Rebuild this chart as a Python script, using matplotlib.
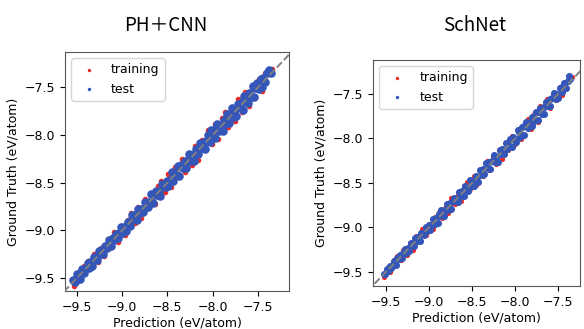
import matplotlib.pyplot as plt
import numpy as np

# PH+CNN: predicted energy and (ground truth - prediction)
ph_train_pred = [-9.53, -9.49, -9.46, -9.42, -9.38, -9.34, -9.31, -9.27, -9.23, -9.20,
                 -9.16, -9.12, -9.09, -9.05, -9.01, -8.97, -8.94, -8.90, -8.86, -8.83,
                 -8.79, -8.75, -8.71, -8.68, -8.64, -8.60, -8.57, -8.53, -8.49, -8.46,
                 -8.42, -8.38, -8.34, -8.31, -8.27, -8.23, -8.20, -8.16, -8.12, -8.09,
                 -8.05, -8.01, -7.97, -7.94, -7.90, -7.86, -7.83, -7.79, -7.75, -7.72,
                 -7.68, -7.64, -7.60, -7.57, -7.53, -7.49, -7.46, -7.42, -7.39, -7.35]
ph_train_err = [-0.05, 0.04, -0.06, 0.05, 0.06, -0.05, 0.06, -0.06, 0.05, -0.07,
                0.07, -0.05, 0.07, -0.07, 0.06, -0.08, 0.05, 0.08, -0.06, 0.07,
                -0.08, 0.08, -0.05, 0.07, -0.08, 0.06, 0.09, -0.07, 0.08, -0.09,
                0.08, -0.06, 0.09, -0.08, 0.07, -0.09, 0.08, -0.10, 0.07, -0.07,
                0.10, -0.08, 0.09, -0.10, 0.08, 0.10, -0.09, 0.08, -0.10, 0.10,
                -0.08, 0.09, -0.10, 0.08, -0.07, 0.08, -0.08, 0.07, 0.06, 0.04]
ph_test_pred = [-9.54, -9.52, -9.50, -9.49, -9.47, -9.45, -9.44, -9.42, -9.40, -9.38,
                -9.37, -9.35, -9.33, -9.31, -9.30, -9.28, -9.26, -9.24, -9.23, -9.21,
                -9.19, -9.17, -9.16, -9.14, -9.12, -9.10, -9.09, -9.07, -9.05, -9.03,
                -9.01, -9.00, -8.98, -8.96, -8.94, -8.93, -8.91, -8.89, -8.87, -8.86,
                -8.84, -8.82, -8.80, -8.79, -8.77, -8.75, -8.73, -8.72, -8.70, -8.68,
                -8.66, -8.65, -8.63, -8.61, -8.59, -8.58, -8.56, -8.54, -8.52, -8.51,
                -8.49, -8.47, -8.45, -8.44, -8.42, -8.40, -8.38, -8.37, -8.35, -8.33,
                -8.31, -8.30, -8.28, -8.26, -8.24, -8.23, -8.21, -8.19, -8.17, -8.16,
                -8.14, -8.12, -8.10, -8.09, -8.07, -8.05, -8.03, -8.02, -8.00, -7.98,
                -7.96, -7.95, -7.93, -7.91, -7.89, -7.88, -7.86, -7.84, -7.82, -7.81,
                -7.79, -7.77, -7.75, -7.74, -7.72, -7.70, -7.68, -7.67, -7.65, -7.63,
                -7.61, -7.60, -7.58, -7.56, -7.54, -7.53, -7.51, -7.49, -7.47, -7.46,
                -7.44, -7.42, -7.40, -7.38, -7.36]
ph_test_err = [0.02, -0.02, 0.04, -0.01, -0.04, 0.01, 0.03, -0.03, 0.00, 0.04,
               -0.02, 0.02, -0.04, 0.03, 0.00, -0.03, 0.04, -0.01, 0.02, -0.04,
               0.03, -0.02, 0.01, 0.04, -0.04, 0.02, -0.01, 0.03, -0.03, 0.00,
               0.05, -0.03, 0.01, -0.05, 0.03, 0.00, -0.04, 0.05, -0.01, 0.02,
               -0.05, 0.04, -0.02, 0.01, -0.04, 0.05, 0.02, -0.03, 0.00, 0.06,
               -0.05, 0.02, 0.04, -0.02, 0.00, -0.06, 0.05, 0.01, -0.03, 0.03,
               -0.05, 0.00, 0.06, -0.04, 0.02, -0.01, 0.05, -0.06, 0.03, -0.02,
               0.04, -0.05, 0.01, 0.06, -0.03, 0.02, -0.06, 0.04, 0.00, -0.04,
               0.06, -0.02, 0.03, -0.06, 0.01, 0.05, -0.04, 0.07, -0.01, -0.05,
               0.03, 0.06, -0.03, 0.00, -0.07, 0.04, -0.02, 0.06, -0.05, 0.02,
               0.07, -0.04, 0.01, -0.06, 0.05, -0.01, 0.03, -0.07, 0.06, 0.00,
               -0.05, 0.04, -0.02, 0.07, -0.06, 0.02, 0.05, -0.03, 0.06, -0.04,
               0.04, -0.02, 0.05, 0.06, 0.01]

# SchNet
sch_train_pred = [-9.52, -9.48, -9.45, -9.41, -9.37, -9.33, -9.30, -9.26, -9.22, -9.19,
                  -9.15, -9.11, -9.08, -9.04, -9.00, -8.96, -8.93, -8.89, -8.85, -8.82,
                  -8.78, -8.74, -8.70, -8.67, -8.63, -8.59, -8.56, -8.52, -8.48, -8.45,
                  -8.41, -8.37, -8.33, -8.30, -8.26, -8.22, -8.19, -8.15, -8.11, -8.08,
                  -8.04, -8.00, -7.96, -7.93, -7.89, -7.85, -7.82, -7.78, -7.74, -7.71,
                  -7.67, -7.63, -7.59, -7.56, -7.52, -7.48, -7.45, -7.41, -7.38, -7.34]
sch_train_err = [-0.04, 0.03, -0.05, 0.04, 0.05, -0.04, 0.05, -0.05, 0.04, -0.06,
                 0.05, -0.04, 0.06, -0.05, 0.04, -0.06, 0.05, 0.06, -0.05, 0.04,
                 -0.06, 0.07, -0.04, 0.05, -0.07, 0.05, 0.07, -0.05, 0.06, -0.07,
                 0.06, -0.05, 0.08, -0.06, 0.05, -0.07, 0.06, -0.08, 0.06, -0.05,
                 0.07, -0.06, 0.07, -0.08, 0.05, 0.07, -0.07, 0.06, -0.08, 0.07,
                 -0.06, 0.07, -0.07, 0.06, -0.05, 0.06, -0.06, 0.05, 0.04, 0.03]
sch_test_pred = [-9.53, -9.51, -9.49, -9.48, -9.46, -9.44, -9.42, -9.41, -9.39, -9.37,
                 -9.35, -9.34, -9.32, -9.30, -9.28, -9.27, -9.25, -9.23, -9.21, -9.20,
                 -9.18, -9.16, -9.14, -9.13, -9.11, -9.09, -9.07, -9.06, -9.04, -9.02,
                 -9.00, -8.99, -8.97, -8.95, -8.93, -8.92, -8.90, -8.88, -8.86, -8.85,
                 -8.83, -8.81, -8.79, -8.78, -8.76, -8.74, -8.72, -8.71, -8.69, -8.67,
                 -8.65, -8.64, -8.62, -8.60, -8.58, -8.57, -8.55, -8.53, -8.51, -8.50,
                 -8.48, -8.46, -8.44, -8.43, -8.41, -8.39, -8.37, -8.36, -8.34, -8.32,
                 -8.30, -8.29, -8.27, -8.25, -8.23, -8.22, -8.20, -8.18, -8.16, -8.15,
                 -8.13, -8.11, -8.09, -8.08, -8.06, -8.04, -8.02, -8.01, -7.99, -7.97,
                 -7.95, -7.94, -7.92, -7.90, -7.88, -7.87, -7.85, -7.83, -7.81, -7.80,
                 -7.78, -7.76, -7.74, -7.73, -7.71, -7.69, -7.67, -7.66, -7.64, -7.62,
                 -7.60, -7.59, -7.57, -7.55, -7.53, -7.52, -7.50, -7.48, -7.46, -7.45,
                 -7.43, -7.41, -7.39, -7.38, -7.36]
sch_test_err = [0.01, -0.02, 0.02, -0.01, 0.03, -0.02, 0.00, 0.03, -0.03, 0.02,
                -0.01, 0.03, -0.03, 0.01, 0.04, -0.02, 0.02, -0.04, 0.03, 0.00,
                -0.03, 0.04, -0.01, 0.02, -0.04, 0.03, 0.01, -0.03, 0.04, -0.02,
                0.03, -0.04, 0.00, 0.04, -0.03, 0.02, -0.05, 0.03, 0.05, -0.02,
                -0.04, 0.01, 0.05, -0.03, 0.03, -0.05, 0.02, 0.04, -0.01, -0.04,
                0.05, -0.02, 0.03, -0.05, 0.04, 0.00, -0.04, 0.06, -0.03, 0.02,
                -0.05, 0.04, 0.01, -0.06, 0.05, -0.02, 0.03, -0.04, 0.06, -0.01,
                0.04, -0.05, 0.02, 0.06, -0.04, 0.01, -0.06, 0.05, -0.02, 0.03,
                -0.05, 0.06, -0.03, 0.02, 0.05, -0.06, 0.04, -0.01, -0.05, 0.06,
                0.02, -0.04, 0.05, -0.06, 0.03, 0.06, -0.03, 0.01, -0.05, 0.04,
                -0.02, 0.06, -0.05, 0.03, 0.05, -0.04, 0.02, -0.06, 0.05, -0.01,
                0.04, -0.05, 0.03, 0.06, -0.03, 0.02, -0.04, 0.05, -0.02, 0.03,
                0.05, -0.02, 0.04, 0.08, 0.03]

ticks = [-9.5, -9.0, -8.5, -8.0, -7.5]

fig = plt.figure(figsize=(5.84, 3.29), dpi=100)

# title, data, axes rect, xlim, ylim, title x, marker sizes
panels = [
    ("PH＋CNN", ph_train_pred, ph_train_err, ph_test_pred, ph_test_err,
     [0.111, 0.1155, 0.384, 0.7264], (-9.633, -7.157), (-9.636, -7.13), 0.284, (16, 38)),
    ("SchNet", sch_train_pred, sch_train_err, sch_test_pred, sch_test_err,
     [0.639, 0.1307, 0.3545, 0.6869], (-9.65, -7.244), (-9.66, -7.118), 0.813, (14, 26)),
]

for title, trp, tre, tep, tee, rect, xl, yl, tx, sizes in panels:
    ax = fig.add_axes(rect)
    trp = np.array(trp)
    tep = np.array(tep)
    ax.scatter(trp, trp + np.array(tre), s=sizes[0], c='#ee2a24', linewidths=0, label='training')
    ax.scatter(tep, tep + np.array(tee), s=sizes[1], c='#3356b8', linewidths=0, label='test')
    ax.plot([-9.8, -7.0], [-9.8, -7.0], '--', color='gray', lw=1.4, zorder=5)
    ax.set_xlim(*xl)
    ax.set_ylim(*yl)
    ax.set_xticks(ticks)
    ax.set_yticks(ticks)
    ax.tick_params(labelsize=9)
    ax.set_xlabel("Prediction (eV/atom)", fontsize=9, labelpad=2)
    ax.set_ylabel("Ground Truth (eV/atom)", fontsize=9)
    for sp in ax.spines.values():
        sp.set_color('#555555')
    leg = ax.legend(loc='upper left', fontsize=9, markerscale=0.4)
    for h in leg.legend_handles:
        h.set_sizes([6])
    fig.text(tx, 0.924, title, ha='center', va='center', fontsize=13.5,
             family=['Noto Sans CJK JP', 'DejaVu Sans'])

fig.savefig("out.png", dpi=100)
